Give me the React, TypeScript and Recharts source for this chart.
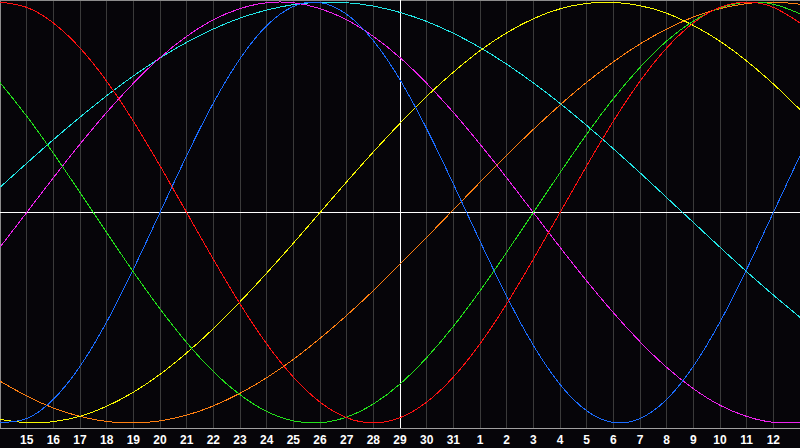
import { LineChart, Line, XAxis, YAxis, CartesianGrid, ReferenceLine } from 'recharts';

// day of month for each plotted index (index 15 = today)
const days = [14, 15, 16, 17, 18, 19, 20, 21, 22, 23, 24, 25, 26, 27, 28, 29, 30, 31, 1, 2, 3, 4, 5, 6, 7, 8, 9, 10, 11, 12, 13];
const todayIndex = 15;

// values in percent
const physical = [-99.8, -97.9, -88.8, -73.1, -52.0, -27.0, 0, 27.0, 52.0, 73.1, 88.8, 97.9, 99.8, 94.2, 81.7, 63.1, 39.8, 13.6, -13.6, -39.8, -63.1, -81.7, -94.2, -99.8, -97.9, -88.8, -73.1, -52.0, -27.0, 0, 27.0];
const emotional = [100, 97.5, 90.1, 78.2, 62.4, 43.4, 22.2, 0, -22.2, -43.4, -62.4, -78.2, -90.1, -97.5, -100, -97.5, -90.1, -78.2, -62.4, -43.4, -22.2, 0, 22.2, 43.4, 62.4, 78.2, 90.1, 97.5, 100, 97.5, 90.1];
const intellectual = [61.8, 45.8, 28.2, 9.5, -9.5, -28.2, -45.8, -61.8, -75.6, -86.6, -94.5, -99.0, -99.9, -97.2, -91.0, -81.5, -69.0, -54.1, -37.2, -18.9, 0, 18.9, 37.2, 54.1, 69.0, 81.5, 91.0, 97.2, 99.9, 99.0, 94.5];
const intuitive = [-16.5, 0, 16.5, 32.5, 47.6, 61.4, 73.6, 83.7, 91.6, 96.9, 99.7, 99.7, 96.9, 91.6, 83.7, 73.6, 61.4, 47.6, 32.5, 16.5, 0, -16.5, -32.5, -47.6, -61.4, -73.6, -83.7, -91.6, -96.9, -99.7, -99.7];
const aesthetic = [-98.3, -99.9, -99.4, -96.8, -92.1, -85.4, -76.9, -66.7, -55.2, -42.4, -28.8, -14.6, 0, 14.6, 28.8, 42.4, 55.2, 66.7, 76.9, 85.4, 92.1, 96.8, 99.4, 99.9, 98.3, 94.7, 88.9, 81.4, 72.0, 61.1, 48.9];
const awareness = [-80.1, -87.2, -92.9, -96.9, -99.3, -100, -99.0, -96.3, -91.9, -85.9, -78.5, -69.8, -59.8, -48.9, -37.1, -24.6, -11.8, 1.3, 14.4, 27.2, 39.5, 51.1, 61.9, 71.6, 80.1, 87.2, 92.9, 96.9, 99.3, 100, 99.0];
const spiritual = [12.0, 23.4, 34.6, 45.3, 55.5, 64.9, 73.4, 80.9, 87.2, 92.4, 96.2, 98.8, 99.9, 99.7, 98.1, 95.1, 90.8, 85.2, 78.4, 70.5, 61.6, 51.9, 41.4, 30.3, 18.9, 7.1, -4.7, -16.5, -28.1, -39.2, -49.8];

const data = days.map((day, i) => ({
  t: i,
  day,
  physical: physical[i],
  emotional: emotional[i],
  intellectual: intellectual[i],
  intuitive: intuitive[i],
  aesthetic: aesthetic[i],
  awareness: awareness[i],
  spiritual: spiritual[i],
}));

const ticks = days.map((_, i) => i).filter((i) => i >= 1 && i < days.length - 1);
const yMin = -102.4;
const yMax = 101;

const series = [
  { key: 'spiritual', color: '#22e8e8' },
  { key: 'intuitive', color: '#ee22ee' },
  { key: 'awareness', color: '#ff7f10' },
  { key: 'aesthetic', color: '#f8f800' },
  { key: 'physical', color: '#1a6cff' },
  { key: 'intellectual', color: '#22e01a' },
  { key: 'emotional', color: '#ff1010' },
];

export default function App() {
  return (
    <div style={{ position: 'fixed', left: 0, top: 0, width: 800, height: 448, background: '#060509' }}>
      <style>{'.recharts-line-curve, .recharts-reference-line-line, .recharts-cartesian-grid line, .recharts-cartesian-axis-line { shape-rendering: crispEdges; }'}</style>
      <LineChart width={800} height={448} data={data} margin={{ top: 0, right: 0, bottom: 0, left: 0 }}>
        <CartesianGrid vertical horizontal={false} stroke="#3a3a3a" />
        <XAxis
          dataKey="t"
          type="number"
          domain={[0, days.length - 1]}
          ticks={ticks}
          interval={0}
          height={20}
          tickLine={false}
          tickSize={0}
          tickMargin={7}
          axisLine={{ stroke: '#a0a0a0' }}
          tickFormatter={(v: number) => String(days[v])}
          tick={{ fill: '#ffffff', fontSize: 12, fontWeight: 700, fontFamily: 'Liberation Sans, Arial, sans-serif' }}
        />
        <YAxis hide domain={[yMin, yMax]} allowDataOverflow />
        <ReferenceLine x={0} stroke="#8c8c8c" strokeWidth={2} />
        <ReferenceLine y={yMax} stroke="#8c8c8c" strokeWidth={2} />
        <ReferenceLine y={0} stroke="#ffffff" />
        <ReferenceLine x={todayIndex} stroke="#ffffff" />
        {series.map((s) => (
          <Line
            key={s.key}
            dataKey={s.key}
            type="natural"
            stroke={s.color}
            strokeWidth={1}
            dot={false}
            activeDot={false}
            isAnimationActive={false}
          />
        ))}
      </LineChart>
    </div>
  );
}
